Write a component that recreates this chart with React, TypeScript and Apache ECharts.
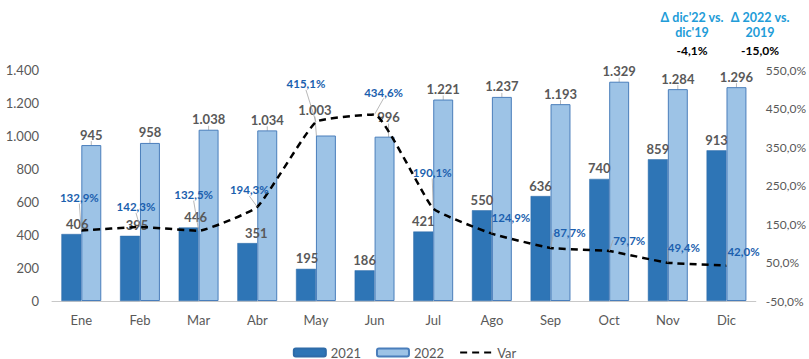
import React, { useEffect, useRef } from "react";
import * as echarts from "echarts";

const categories = ["Ene", "Feb", "Mar", "Abr", "May", "Jun", "Jul", "Ago", "Sep", "Oct", "Nov", "Dic"];
const values2021 = [406, 395, 446, 351, 195, 186, 421, 550, 636, 740, 859, 913];
const values2022 = [945, 958, 1038, 1034, 1003, 996, 1221, 1237, 1193, 1329, 1284, 1296];
const varValues = [132.9, 142.3, 132.5, 194.3, 415.1, 434.6, 190.1, 124.9, 87.7, 79.7, 49.4, 42.0];
const leftTicks = [0, 200, 400, 600, 800, 1000, 1200, 1400];
const rightTicks = [-50, 50, 150, 250, 350, 450, 550];
const noteTitles = ["Δ dic'22 vs.\ndic'19", "Δ 2022 vs.\n2019"];
const noteValues = ["-4,1%", "-15,0%"];

// label nudges (styling only)
const varLabelShift: [number, number][] = [
  [-2, -22], [-4, -9], [-5, -25], [-8, -6], [-10, -27], [9, -11],
  [-1, -25], [19, -5], [19, -4], [20, 0], [16, -4], [17, -3],
];
const bar21Shift: [number, number][] = [
  [6, 0], [7, 0], [7, 0], [9, 0], [1, 0], [0, 0], [0, 0], [0, 0], [0, 0], [0, 0], [0, 0], [0, 0],
];
const bar22Shift: [number, number][] = [
  [0, 0], [0, 0], [0, 0], [0, 0], [-11, -15], [4, -9], [0, 0], [0, 0], [0, 0], [0, 0], [0, 0], [0, 0],
];
const noteX = [692, 760];

const FONT = "Lato, 'Liberation Sans', sans-serif";
const fmtThousands = (v: number) => String(Math.round(v)).replace(/\B(?=(\d{3})+(?!\d))/g, ".");
const fmtPct = (v: number) => v.toFixed(1).replace(".", ",") + "%";

export default function App() {
  const ref = useRef<HTMLDivElement>(null);
  useEffect(() => {
    if (!ref.current) return;
    const chart = echarts.init(ref.current, null, { renderer: "svg" });
    const option: any = {
      animation: false,
      backgroundColor: "#ffffff",
      textStyle: { fontFamily: FONT },
      grid: { left: 52, right: 49, top: 70, bottom: 58, containLabel: false },
      legend: {
        left: "center",
        top: 341,
        itemWidth: 32,
        itemHeight: 8,
        itemGap: 15,
        textStyle: { color: "#595959", fontSize: 13, fontFamily: FONT },
        data: ["2021", "2022", { name: "Var", itemStyle: { opacity: 0 } }],
      },
      xAxis: {
        type: "category",
        data: categories,
        axisLine: { show: true, lineStyle: { color: "#C8C8C8", width: 1 } },
        axisTick: { show: false },
        axisLabel: { color: "#595959", fontSize: 13, margin: 12, fontFamily: FONT },
      },
      yAxis: [
        {
          type: "value",
          min: leftTicks[0],
          max: leftTicks[leftTicks.length - 1],
          interval: 200,
          splitLine: { show: false },
          axisLine: { show: false },
          axisTick: { show: false },
          axisLabel: {
            color: "#595959",
            fontSize: 13,
            margin: 13,
            fontFamily: FONT,
            formatter: (v: number) => fmtThousands(v),
          },
        },
        {
          type: "value",
          min: rightTicks[0],
          max: rightTicks[rightTicks.length - 1],
          splitLine: { show: false },
          axisLine: { show: false },
          axisTick: { show: false },
          axisLabel: {
            color: "#595959",
            fontSize: 12,
            margin: 10,
            fontFamily: FONT,
            customValues: rightTicks,
            formatter: (v: number) => fmtPct(v),
          },
        },
      ],
      series: [
        {
          name: "2021",
          type: "bar",
          data: values2021,
          barGap: "0%",
          barCategoryGap: "32%",
          itemStyle: { color: "#2E75B6", borderColor: "#2E6BA8", borderWidth: 0.5 },
          label: {
            show: true,
            position: "top",
            distance: 4,
            color: "#595959",
            fontSize: 13,
            fontWeight: "bold",
            fontFamily: FONT,
            formatter: (p: any) => fmtThousands(p.value),
          },
          labelLayout: (p: any) => ({ dx: bar21Shift[p.dataIndex][0], dy: bar21Shift[p.dataIndex][1] }),
          z: 2,
        },
        {
          name: "2022",
          type: "bar",
          data: values2022,
          itemStyle: { color: "#9DC3E6", borderColor: "#4A7EBB", borderWidth: 1 },
          label: {
            show: true,
            position: "top",
            distance: 4,
            color: "#595959",
            fontSize: 13,
            fontWeight: "bold",
            fontFamily: FONT,
            formatter: (p: any) => fmtThousands(p.value),
          },
          labelLine: { show: true, lineStyle: { color: "#A6A6A6", width: 0.8 } },
          labelLayout: (p: any) => ({ dx: bar22Shift[p.dataIndex][0], dy: bar22Shift[p.dataIndex][1] }),
          z: 2,
        },
        {
          name: "Var",
          type: "line",
          yAxisIndex: 1,
          data: varValues,
          smooth: 0.12,
          symbol: "circle",
          symbolSize: 0.1,
          showSymbol: true,
          itemStyle: { color: "#000000" },
          lineStyle: { color: "#000000", width: 2.5, type: [7, 5] },
          label: {
            show: true,
            position: "top",
            distance: 5,
            color: "#1B5FAE",
            fontSize: 11.5,
            fontWeight: "bold",
            fontFamily: FONT,
            formatter: (p: any) => fmtPct(p.value),
          },
          labelLine: { show: true, lineStyle: { color: "#A6A6A6", width: 0.8 } },
          labelLayout: (p: any) => ({ dx: varLabelShift[p.dataIndex][0], dy: varLabelShift[p.dataIndex][1] }),
          z: 5,
        },
      ],
      graphic: [
        ...noteTitles.map((t, i) => ({
          type: "text",
          x: noteX[i],
          y: 10,
          style: {
            text: t,
            fill: "#229CD8",
            font: `bold 12.5px ${FONT}`,
            align: "center",
            textAlign: "center",
            lineHeight: 15,
          },
        })),
        ...noteValues.map((t, i) => ({
          type: "text",
          x: noteX[i],
          y: 44,
          style: { text: t, fill: "#000000", font: `bold 12px ${FONT}`, align: "center", textAlign: "center" },
        })),
      ],
    };
    chart.setOption(option);
    return () => chart.dispose();
  }, []);
  return <div ref={ref} style={{ position: "absolute", left: 0, top: 0, width: 809, height: 359 }} />;
}
